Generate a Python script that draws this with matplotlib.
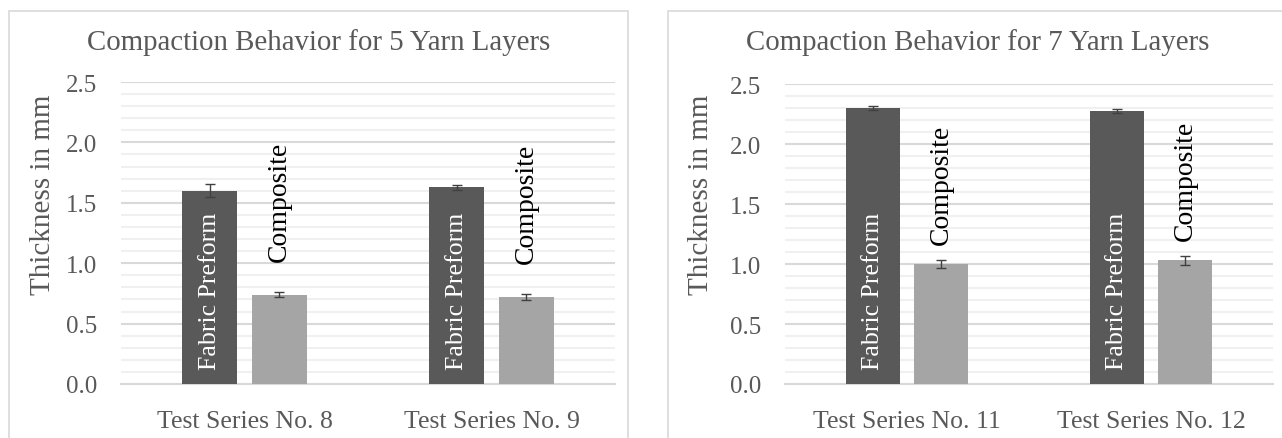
import matplotlib
matplotlib.use("Agg")
import matplotlib.pyplot as plt
from matplotlib.patches import Rectangle
from matplotlib.ticker import MultipleLocator

# Data
titles = ["Compaction Behavior for 5 Yarn Layers", "Compaction Behavior for 7 Yarn Layers"]
categories_5 = ["Test Series No. 8", "Test Series No. 9"]
categories_7 = ["Test Series No. 11", "Test Series No. 12"]
preform_5 = [1.60, 1.63]
preform_5_err = [0.055, 0.02]
composite_5 = [0.74, 0.72]
composite_5_err = [0.022, 0.025]
preform_7 = [2.30, 2.275]
preform_7_err = [0.02, 0.02]
composite_7 = [1.00, 1.03]
composite_7_err = [0.03, 0.035]
series_names = ["Fabric Preform", "Composite"]
y_label = "Thickness in mm"

W, H = 1282, 439
plt.rcParams["font.family"] = ["Liberation Serif", "DejaVu Serif"]
fig = plt.figure(figsize=(W / 100, H / 100), dpi=100)
fig.patch.set_facecolor("white")

TEXT = "#595959"
DARK = "#595959"
LIGHT = "#A5A5A5"
MAJOR = "#D9D9D9"
MINOR = "#F0F0F0"
FRAME = "#D9D9D9"


def px_rect(x0, y0, x1, y1):
    return [x0 / W, 1 - y1 / H, (x1 - x0) / W, (y1 - y0) / H]


# Panel frames
for x0, x1 in [(9, 628), (668, 1300)]:
    fig.patches.append(Rectangle((x0 / W, -0.05), (x1 - x0) / W, 1 - 12 / H + 0.05,
                                 transform=fig.transFigure, fill=False,
                                 edgecolor=FRAME, linewidth=1.2))

panels = [
    dict(rect=px_rect(121, 83, 615, 385), title=titles[0], cats=categories_5,
         pre=preform_5, pre_err=preform_5_err, comp=composite_5, comp_err=composite_5_err,
         title_x=319, ylab_x=43, comp_off=34),
    dict(rect=px_rect(785, 85, 1273, 385), title=titles[1], cats=categories_7,
         pre=preform_7, pre_err=preform_7_err, comp=composite_7, comp_err=composite_7_err,
         title_x=978, ylab_x=701, comp_off=20),
]

bar_w = 0.222
offset = 0.141

for p in panels:
    ax = fig.add_axes(p["rect"])
    x = list(range(len(p["cats"])))
    xp = [i - offset for i in x]
    xc = [i + offset for i in x]
    ax.bar(xp, p["pre"], width=bar_w, color=DARK, zorder=3)
    ax.bar(xc, p["comp"], width=bar_w, color=LIGHT, zorder=3)
    ax.errorbar(xp, p["pre"], yerr=p["pre_err"], fmt="none", ecolor="#404040",
                elinewidth=1.0, capsize=3.5, capthick=1.0, zorder=4)
    ax.errorbar(xc, p["comp"], yerr=p["comp_err"], fmt="none", ecolor="#404040",
                elinewidth=1.0, capsize=3.5, capthick=1.0, zorder=4)

    for xi in xp:
        ax.annotate(series_names[0], (xi, 0), xytext=(0, 11), textcoords="offset points",
                    rotation=90, ha="center", va="bottom", color="white", fontsize=18.6,
                    zorder=5)
    for xi, v in zip(xc, p["comp"]):
        ax.annotate(series_names[1], (xi, v), xytext=(0, p["comp_off"] * 0.72),
                    textcoords="offset points", rotation=90, ha="center", va="bottom",
                    color="black", fontsize=20, zorder=5)

    ax.set_xlim(-0.5, 1.5)
    ax.set_ylim(0, 2.5)
    ax.yaxis.set_major_locator(MultipleLocator(0.5))
    ax.yaxis.set_minor_locator(MultipleLocator(0.1))
    ax.set_yticks([0, 0.5, 1.0, 1.5, 2.0, 2.5])
    ax.set_yticklabels([f"{v:.1f}" for v in [0, 0.5, 1.0, 1.5, 2.0, 2.5]])
    ax.set_xticks(x)
    ax.set_xticklabels(p["cats"])
    ax.grid(axis="y", which="major", color=MAJOR, linewidth=1.5, zorder=0)
    ax.grid(axis="y", which="minor", color=MINOR, linewidth=1.5, zorder=0)
    ax.tick_params(axis="both", which="both", length=0, colors=TEXT)
    ax.tick_params(axis="y", labelsize=18, pad=17)
    ax.tick_params(axis="x", labelsize=18.5, pad=19)
    for s in ["left", "right", "top"]:
        ax.spines[s].set_visible(False)
    ax.spines["bottom"].set_color(MAJOR)
    ax.spines["bottom"].set_linewidth(1.5)
    ax.set_axisbelow(True)

    fig.text(p["title_x"] / W, 1 - 43 / H, p["title"], ha="center", va="center",
             color=TEXT, fontsize=20.8)
    fig.text(p["ylab_x"] / W, 1 - 195 / H, y_label, ha="center", va="center",
             rotation=90, color=TEXT, fontsize=21)

fig.savefig("out.png", dpi=100, facecolor="white")
